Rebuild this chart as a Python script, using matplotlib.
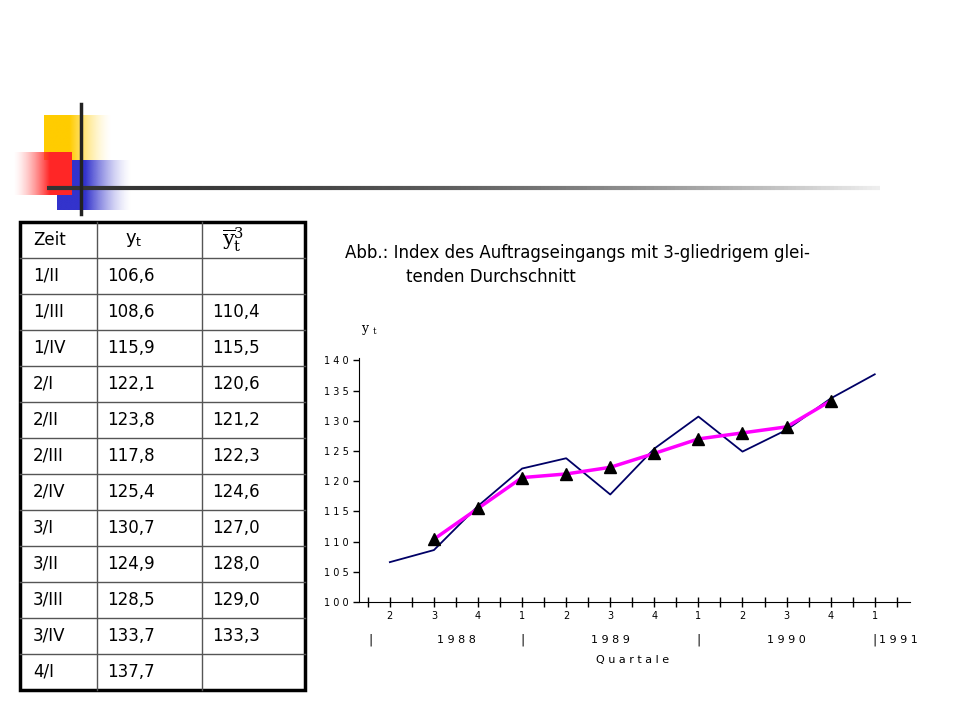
import matplotlib.pyplot as plt
import numpy as np

zeit = ['1/II', '1/III', '1/IV', '2/I', '2/II', '2/III', '2/IV', '3/I', '3/II', '3/III', '3/IV', '4/I']
yt = [106.6, 108.6, 115.9, 122.1, 123.8, 117.8, 125.4, 130.7, 124.9, 128.5, 133.7, 137.7]
ma3 = [None, 110.4, 115.5, 120.6, 121.2, 122.3, 124.6, 127.0, 128.0, 129.0, 133.3, None]
quarter_labels = ['2', '3', '4', '1', '2', '3', '4', '1', '2', '3', '4', '1']
years = ['1988', '1989', '1990', '1991']

W, H = 960, 720
fig = plt.figure(figsize=(9.6, 7.2), dpi=100)

# overlay in pixel coordinates
bg = fig.add_axes([0, 0, 1, 1])
bg.set_xlim(0, W)
bg.set_ylim(H, 0)
bg.axis('off')

def grad(x0, x1, y0, y1, rgb, direction='right', z=1):
    a = np.linspace(1, 0, 100) ** 1.5
    if direction == 'right':
        a = np.concatenate([np.ones(60), a])
    else:
        a = np.concatenate([a[::-1], np.ones(60)])
    img = np.zeros((2, len(a), 4))
    img[..., :3] = rgb
    img[..., 3] = a
    bg.imshow(img, extent=(x0, x1, y1, y0), aspect='auto', zorder=z, interpolation='bilinear')

grad(44, 112, 115, 160, (1.0, 0.8, 0.0), 'right', 1)
grad(57, 132, 160, 210, (0.2, 0.2, 0.8), 'right', 2)
grad(13, 72, 152, 195, (1.0, 0.15, 0.15), 'left', 3)
bg.plot([81, 81], [104, 214], color='#222222', lw=2.5, zorder=5)
# fading horizontal line
xs = np.linspace(47, 880, 200)
for i in range(len(xs) - 1):
    f = i / len(xs)
    c = 0.2 + 0.75 * f ** 2
    bg.plot(xs[i:i + 2], [188, 188], color=(c, c, c), lw=3, zorder=4, solid_capstyle='butt')

# table
cols = [20, 97, 202, 305]
top, rh = 222, 36
nrows = 13
for r in range(1, nrows):
    bg.plot([cols[0], cols[-1]], [top + r * rh] * 2, color='#555555', lw=1)
for c in cols[1:-1]:
    bg.plot([c, c], [top, top + nrows * rh], color='#555555', lw=1)
bg.add_patch(plt.Rectangle((cols[0], top), cols[-1] - cols[0], nrows * rh,
                           fill=False, ec='black', lw=2.5))
ty = top + rh / 2
bg.text(33, ty, 'Zeit', fontsize=12, va='center')
bg.text(125, ty, r'$\mathregular{y_t}$', fontsize=13, va='center')
bg.text(222, ty, r'$\overline{\mathrm{y}}_{\mathrm{t}}^{3}$', fontsize=15, va='center',
        family='serif', math_fontfamily='dejavuserif')
for i in range(len(zeit)):
    y = top + (i + 1.5) * rh
    bg.text(33, y, zeit[i], fontsize=12, va='center')
    bg.text(107, y, f'{yt[i]:.1f}'.replace('.', ','), fontsize=12, va='center')
    if ma3[i] is not None:
        bg.text(212, y, f'{ma3[i]:.1f}'.replace('.', ','), fontsize=12, va='center')

bg.text(345, 253, 'Abb.: Index des Auftragseingangs mit 3-gliedrigem glei-', fontsize=12, va='center')
bg.text(406, 277, 'tenden Durchschnitt', fontsize=12, va='center')
bg.text(361, 330, r'y $_{\mathregular{t}}$', fontsize=9, family='serif', va='center')

# chart
x0, x1, yb, ytop = 359, 910, 602, 358
ax = fig.add_axes([x0 / W, 1 - yb / H, (x1 - x0) / W, (yb - ytop) / H])
ax.patch.set_alpha(0)
ax.set_xlim(-0.7, 11.8)
ax.set_ylim(100, 140.4)
for s in ['top', 'right']:
    ax.spines[s].set_visible(False)
ax.set_yticks(np.arange(100, 141, 5))
ax.set_yticklabels([' '.join(str(v)) for v in range(100, 141, 5)], fontsize=7)
ax.set_xticks(np.arange(-0.5, 11.6, 0.5))
ax.set_xticklabels([])
ax.tick_params(axis='x', direction='inout', length=7, width=1)
ax.tick_params(axis='y', direction='out', length=4, width=1)
idx = np.arange(len(yt))
ax.plot(idx, yt, color='#000066', lw=1.3)
mi = [i for i in idx if ma3[i] is not None]
ax.plot(mi, [ma3[i] for i in mi], color='#ff00ff', lw=2.5)
ax.plot(mi, [ma3[i] for i in mi], ls='none', marker='^', color='black', ms=8)
tr = ax.get_xaxis_transform()
for i, q in enumerate(quarter_labels):
    ax.text(i, -0.07, q, transform=tr, ha='center', fontsize=7)
for s in [-0.45, 3.0, 7.0, 11.0]:
    ax.text(s, -0.17, '|', transform=tr, ha='center', fontsize=9)
for p, yr in zip([1.5, 5.0, 9.0], years[:3]):
    ax.text(p, -0.17, ' '.join(yr), transform=tr, ha='center', fontsize=8)
ax.text(11.1, -0.17, ' '.join(years[3]), transform=tr, ha='left', fontsize=8)
ax.text(5.5, -0.25, ' '.join('Quartale'), transform=tr, ha='center', fontsize=8)

fig.savefig('out.png', dpi=100)
